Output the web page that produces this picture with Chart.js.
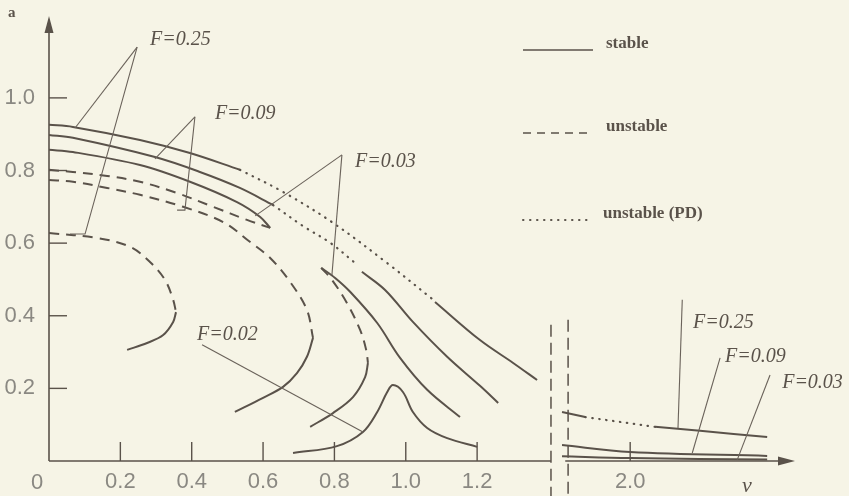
<!DOCTYPE html>
<html><head><meta charset="utf-8">
<script src="https://cdn.jsdelivr.net/npm/chart.js@4.4.1/dist/chart.umd.min.js"></script>
<style>
html,body{margin:0;padding:0;background:#f6f4e6;}
#wrap{width:849px;height:496px;position:relative;background:#f6f4e6;}
</style></head><body>
<div id="wrap"><canvas id="c" width="849" height="496"></canvas></div>
<script>
// ---------- DATA (nu, a) ----------
// F = 0.25
const F025_top_stable1 = [[0,0.926],[0.067,0.920],[0.255,0.884],[0.395,0.848],[0.535,0.802]];
const F025_top_pd      = [[0.535,0.802],[0.656,0.741],[0.796,0.656],[0.948,0.545],[1.077,0.444]];
const F025_top_stable2 = [[1.082,0.438],[1.208,0.333],[1.301,0.270],[1.368,0.223]];
const F025_in_unstable = [[0,0.628],[0.135,0.614],[0.227,0.590],[0.283,0.548],[0.325,0.499],[0.348,0.444],[0.356,0.410]];
const F025_in_stable   = [[0.356,0.410],[0.348,0.383],[0.320,0.347],[0.275,0.325],[0.219,0.306]];
const F025_right_stable1 = [[1.809,0.135],[1.874,0.121]];
const F025_right_pd      = [[1.874,0.121],[2.070,0.094]];
const F025_right_stable2 = [[2.070,0.094],[2.196,0.083],[2.384,0.066]];
// F = 0.09
const F009_top_stable1 = [[0,0.898],[0.067,0.890],[0.297,0.837],[0.423,0.796],[0.535,0.752],[0.628,0.705]];
const F009_top_pd      = [[0.628,0.705],[0.712,0.647],[0.788,0.601],[0.861,0.543]];
const F009_top_stable2 = [[0.877,0.521],[0.942,0.471],[1.020,0.383],[1.116,0.287],[1.208,0.207],[1.259,0.160]];
const F009_in_unstable = [[0,0.774],[0.067,0.769],[0.163,0.752],[0.255,0.733],[0.376,0.700],[0.488,0.658],[0.564,0.603],[0.620,0.559],[0.676,0.493],[0.723,0.416],[0.740,0.339]];
const F009_in_stable   = [[0.740,0.339],[0.723,0.287],[0.695,0.242],[0.656,0.204],[0.600,0.174],[0.521,0.135]];
const F009_right_stable = [[1.809,0.044],[2.000,0.025],[2.384,0.014]];
// F = 0.03
const F003_top_stable  = [[0,0.857],[0.067,0.851],[0.255,0.815],[0.395,0.769],[0.527,0.713],[0.592,0.672],[0.620,0.642]];
const F003_top_unstable= [[0,0.802],[0.067,0.796],[0.163,0.785],[0.255,0.769],[0.359,0.738],[0.460,0.700],[0.555,0.664],[0.620,0.642]];
const F003_low_stable  = [[0.763,0.532],[0.802,0.504],[0.844,0.466],[0.920,0.380],[0.984,0.284],[1.060,0.196],[1.152,0.121]];
const F003_low_unstable= [[0.763,0.532],[0.793,0.499],[0.835,0.435],[0.872,0.361],[0.889,0.306],[0.894,0.270]];
const F003_low_stable2 = [[0.894,0.270],[0.886,0.231],[0.852,0.176],[0.796,0.132],[0.732,0.094]];
const F003_right_stable = [[1.809,0.013],[2.000,0.008],[2.384,0.004]];
// F = 0.02
const F002_stable = [[0.684,0.022],[0.807,0.041],[0.880,0.080],[0.920,0.135],[0.948,0.190],[0.964,0.209],[0.992,0.190],[1.020,0.135],[1.060,0.091],[1.116,0.063],[1.200,0.039]];

// ticks
const X_TICKS = [0.2,0.4,0.6,0.8,1.0,1.2,2.0];
const X_TICK_LABELS = ['0.2','0.4','0.6','0.8','1.0','1.2','2.0'];
const Y_TICKS = [0.2,0.4,0.6,0.8,1.0];
const Y_TICK_LABELS = ['0.2','0.4','0.6','0.8','1.0'];

// broken axis: values above BREAK_AT are shifted left by SHIFT
const BREAK_AT = 1.6, SHIFT = 0.371;
const BREAK_LINES = [1.407, 1.826];
const AXIS_LEFT_END = 1.407, AXIS_RIGHT_START = 1.818;

// annotation pointer lines and labels (data coords)
const POINTERS = [
 [[0.247,1.140],[0.073,0.917]],
 [[0.247,1.140],[0.101,0.625],[0.059,0.625]],
 [[0.409,0.948],[0.297,0.832]],
 [[0.409,0.948],[0.381,0.691],[0.359,0.691]],
 [[0.821,0.843],[0.578,0.675]],
 [[0.821,0.843],[0.793,0.512]],
 [[0.429,0.320],[0.880,0.080]],
 [[2.146,0.444],[2.134,0.091]],
 [[2.252,0.284],[2.174,0.022]],
 [[2.392,0.237],[2.300,0.003]]
];
const F_LABELS = [
 ['F=0.25',0.283,1.160],['F=0.09',0.465,0.956],['F=0.03',0.858,0.824],['F=0.02',0.415,0.347],
 ['F=0.25',2.176,0.380],['F=0.09',2.266,0.287],['F=0.03',2.426,0.215]
];
const LEGEND = [['stable','solid'],['unstable','dash'],['unstable (PD)','dot']];

// ---------- STYLE ----------
const INK = '#5a524a', THIN = '#6a625a', TXT = '#8a8882';
const DASH = [10,7], DOT = [0.5,6.5];
const toAxis = v => v > BREAK_AT ? v - SHIFT : v;

function ds(points, kind){
  return {
    data: points.map(p=>({x:toAxis(p[0]), y:p[1]})),
    showLine:true, pointRadius:0, borderColor:INK, borderWidth: kind==='dot'?2.2:2,
    borderDash: kind==='dash'?DASH:(kind==='dot'?DOT:[]),
    borderCapStyle: kind==='dot'?'round':'butt',
    tension:0.35, fill:false
  };
}
const datasets = [
  ds(F025_top_stable1,'solid'), ds(F025_top_pd,'dot'), ds(F025_top_stable2,'solid'),
  ds(F025_in_unstable,'dash'), ds(F025_in_stable,'solid'),
  ds(F025_right_stable1,'solid'), ds(F025_right_pd,'dot'), ds(F025_right_stable2,'solid'),
  ds(F009_top_stable1,'solid'), ds(F009_top_pd,'dot'), ds(F009_top_stable2,'solid'),
  ds(F009_in_unstable,'dash'), ds(F009_in_stable,'solid'), ds(F009_right_stable,'solid'),
  ds(F003_top_stable,'solid'), ds(F003_top_unstable,'dash'),
  ds(F003_low_stable,'solid'), ds(F003_low_unstable,'dash'), ds(F003_low_stable2,'solid'),
  ds(F003_right_stable,'solid'),
  ds(F002_stable,'solid')
];

const decor = {
  id:'decor',
  afterDatasetsDraw(chart){
    const ctx = chart.ctx, xs = chart.scales.x, ys = chart.scales.y;
    const X = v => xs.getPixelForValue(toAxis(v)), Y = v => ys.getPixelForValue(v);
    const x0 = xs.getPixelForValue(0), y0 = ys.getPixelForValue(0);
    ctx.save();
    ctx.strokeStyle = INK; ctx.fillStyle = INK; ctx.lineWidth = 1.6; ctx.setLineDash([]);
    // y axis with arrow
    ctx.beginPath(); ctx.moveTo(x0, y0); ctx.lineTo(x0, chart.chartArea.top+12); ctx.stroke();
    ctx.beginPath(); ctx.moveTo(x0, chart.chartArea.top-2); ctx.lineTo(x0-4.5, chart.chartArea.top+15); ctx.lineTo(x0+4.5, chart.chartArea.top+15); ctx.closePath(); ctx.fill();
    // x axis in two pieces with arrow
    ctx.beginPath(); ctx.moveTo(x0, y0); ctx.lineTo(xs.getPixelForValue(AXIS_LEFT_END), y0); ctx.stroke();
    const xr = chart.chartArea.right;
    ctx.beginPath(); ctx.moveTo(X(AXIS_RIGHT_START), y0); ctx.lineTo(xr-15, y0); ctx.stroke();
    ctx.beginPath(); ctx.moveTo(xr-5, y0); ctx.lineTo(xr-22, y0-4.5); ctx.lineTo(xr-22, y0+4.5); ctx.closePath(); ctx.fill();
    // inward tick marks
    ctx.lineWidth = 1.4;
    X_TICKS.forEach(v=>{ const px = X(v); ctx.beginPath(); ctx.moveTo(px, y0); ctx.lineTo(px, y0-19); ctx.stroke(); });
    Y_TICKS.forEach(v=>{ const py = Y(v); ctx.beginPath(); ctx.moveTo(x0, py); ctx.lineTo(x0+18, py); ctx.stroke(); });
    // break lines
    ctx.setLineDash([12,6]); ctx.lineWidth = 1.5;
    BREAK_LINES.forEach((v,i)=>{ const px = X(v); ctx.beginPath(); ctx.moveTo(px, Y(0.375)-(i?5:0)); ctx.lineTo(px, chart.height); ctx.stroke(); });
    // pointer lines
    ctx.setLineDash([]); ctx.lineWidth = 1.1; ctx.strokeStyle = THIN;
    POINTERS.forEach(pts=>{ ctx.beginPath(); pts.forEach((p,i)=>{ const a=X(p[0]), b=Y(p[1]); i?ctx.lineTo(a,b):ctx.moveTo(a,b); }); ctx.stroke(); });
    // F labels
    ctx.fillStyle = INK; ctx.font = 'italic 20px "Liberation Serif", serif'; ctx.textBaseline = 'middle'; ctx.textAlign = 'left';
    F_LABELS.forEach(l=>ctx.fillText(l[0], X(l[1]), Y(l[2])));
    // origin label
    ctx.fillStyle = TXT; ctx.font = '22px "Liberation Sans", sans-serif'; ctx.textAlign='center'; ctx.textBaseline='alphabetic';
    ctx.fillText('0', x0-12, 489);
    // axis names
    ctx.fillStyle = INK; ctx.textAlign='left';
    ctx.font = 'bold 15px "Liberation Serif", serif'; ctx.fillText('a', 8, 17);
    ctx.font = 'italic 22px "Liberation Serif", serif'; ctx.fillText('ν', 742, 492);
    // legend
    const ly = [50,133,220];
    LEGEND.forEach((it,i)=>{
      ctx.strokeStyle = INK; ctx.lineWidth = it[1]==='dot'?2:1.6;
      ctx.setLineDash(it[1]==='dash'?[8,6]:(it[1]==='dot'?[0.5,6.5]:[]));
      ctx.lineCap = it[1]==='dot'?'round':'butt';
      ctx.beginPath(); ctx.moveTo(523, ly[i]); ctx.lineTo(593, ly[i]); ctx.stroke();
      ctx.fillStyle = INK; ctx.font = 'bold 17px "Liberation Serif", serif';
      ctx.fillText(it[0], i===2?603:606, ly[i]-2);
    });
    ctx.restore();
  }
};

new Chart(document.getElementById('c'), {
  type:'scatter',
  data:{datasets},
  options:{
    responsive:false, animation:false,
    layout:{padding:{top:18,right:49,left:0,bottom:0}},
    plugins:{legend:{display:false}, tooltip:{enabled:false}},
    scales:{
      x:{type:'linear', min:0, max:2.105,
         afterFit(s){ s.height = 35; s.paddingLeft = 0; s.paddingRight = 0; },
         afterBuildTicks(s){ s.ticks = X_TICKS.map(v=>({value:toAxis(v)})); },
         ticks:{callback:(v,i)=>X_TICK_LABELS[i], color:TXT, font:{family:'"Liberation Sans", sans-serif', size:22}, padding:8, maxRotation:0, autoSkip:false},
         grid:{display:false, drawTicks:false}, border:{display:false}},
      y:{type:'linear', min:0, max:1.22,
         afterFit(s){ s.width = 49; s.paddingTop = 0; s.paddingBottom = 0; },
         afterBuildTicks(s){ s.ticks = Y_TICKS.map(v=>({value:v})); },
         ticks:{callback:(v,i)=>Y_TICK_LABELS[i], color:TXT, font:{family:'"Liberation Sans", sans-serif', size:22}, padding:14, autoSkip:false},
         grid:{display:false, drawTicks:false}, border:{display:false}}
    }
  },
  plugins:[decor]
});
</script>
</body></html>
